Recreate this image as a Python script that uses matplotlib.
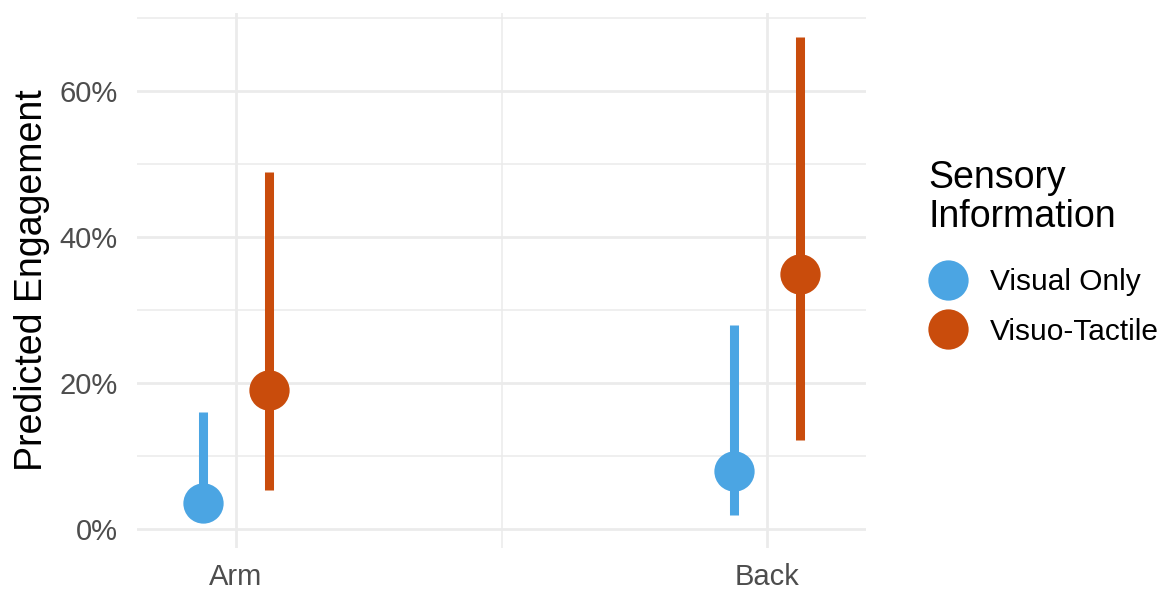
import numpy as np
import matplotlib
matplotlib.use("Agg")
import matplotlib.pyplot as plt
from matplotlib.lines import Line2D
from matplotlib.ticker import PercentFormatter, FixedLocator

plt.rcParams["font.family"] = ["Liberation Sans", "DejaVu Sans"]

# predicted engagement (proportion) with 95% interval, per body site
sites = ["Arm", "Back"]
groups = ["Visual Only", "Visuo-Tactile"]
colors = ["#4BA5E3", "#C94C0C"]

visual_est = [0.036, 0.079]
visual_lo = [0.009, 0.019]
visual_hi = [0.160, 0.279]

tactile_est = [0.190, 0.350]
tactile_lo = [0.054, 0.122]
tactile_hi = [0.489, 0.674]

estimates = [visual_est, tactile_est]
lowers = [visual_lo, tactile_lo]
uppers = [visual_hi, tactile_hi]
dodge = [-0.0625, 0.0625]

fig = plt.figure(figsize=(11.72, 5.92), dpi=100)
ax = fig.add_axes([137 / 1172, 44 / 592, 729 / 1172, 535 / 592])

x = np.arange(1, len(sites) + 1)
for est, lo, hi, off, col in zip(estimates, lowers, uppers, dodge, colors):
    xs = x + off
    ax.vlines(xs, lo, hi, color=col, linewidth=6.5, zorder=3)
    ax.plot(xs, est, "o", color=col, markersize=29, markeredgewidth=0, zorder=4)

ax.set_xlim(0.814, 2.186)
ax.set_ylim(-0.026, 0.707)

ax.set_xticks(x)
ax.set_xticklabels(sites)
ax.xaxis.set_minor_locator(FixedLocator([1.5]))
ax.set_yticks([0, 0.2, 0.4, 0.6])
ax.yaxis.set_minor_locator(FixedLocator([0.1, 0.3, 0.5, 0.7]))
ax.yaxis.set_major_formatter(PercentFormatter(xmax=1, decimals=0))

ax.grid(which="major", color="#EBEBEB", linewidth=2.0, zorder=0)
ax.grid(which="minor", color="#EBEBEB", linewidth=1.1, zorder=0)
ax.set_axisbelow(True)
for s in ax.spines.values():
    s.set_visible(False)
ax.tick_params(which="both", length=0, labelsize=21, labelcolor="#4D4D4D")
ax.tick_params(axis="x", pad=11)
ax.tick_params(axis="y", pad=14)

ax.set_ylabel("Predicted Engagement", fontsize=27, labelpad=7)

# legend: title drawn separately so its gap to the keys can be set freely
fig.text(928 / 1172, 1 - 160 / 592, "Sensory\nInformation", fontsize=27,
         ha="left", va="top", linespacing=1.12)
handles = [Line2D([], [], linestyle="none", marker="o", markersize=29,
                  markeredgewidth=0, color=c) for c in colors]
fig.legend(handles, groups, loc="center left",
           bbox_to_anchor=(927 / 1172, 1 - 307 / 592),
           frameon=False, fontsize=21.5,
           handlelength=1.4, handletextpad=0.7, labelspacing=0.72,
           borderaxespad=0, borderpad=0)

fig.savefig("out.png", dpi=100)
